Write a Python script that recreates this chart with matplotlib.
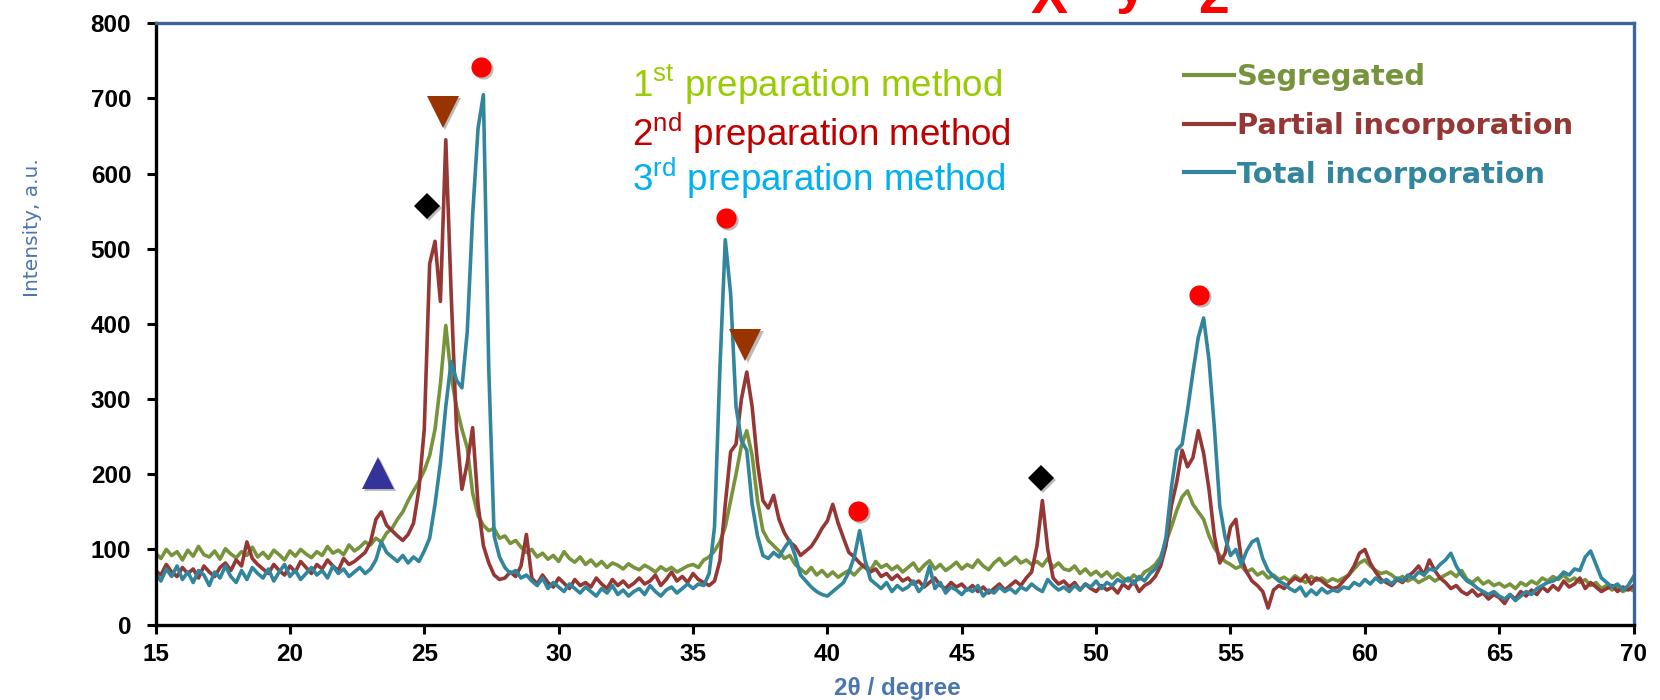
import numpy as np
import matplotlib
matplotlib.use('Agg')
import matplotlib.pyplot as plt
import matplotlib.transforms as mtransforms

plt.rcParams['mathtext.fontset'] = 'custom'
plt.rcParams['mathtext.rm'] = 'Liberation Sans'
plt.rcParams['mathtext.bf'] = 'Liberation Sans:bold'

# 2-theta scan, 0.2 degree step from 15 to 70
TWO_THETA = np.round(np.arange(15.0, 70.05, 0.2), 1)

SEGREGATED = [
    95, 88, 100, 92, 97, 86, 99, 91, 104, 93,
    90, 98, 87, 101, 94, 89, 97, 92, 103, 90,
    96, 88, 99, 93, 86, 98, 91, 100, 94, 89,
    97, 92, 104, 95, 99, 93, 106, 98, 103, 110,
    106, 115, 110, 122, 128, 140, 150, 165, 178, 190,
    205, 225, 260, 320, 398, 330, 290, 260, 235, 175,
    145, 132, 125, 128, 115, 118, 108, 112, 103, 96,
    100, 90, 95, 87, 92, 84, 97, 88, 83, 90,
    80, 86, 78, 84, 76, 82, 79, 74, 81, 76,
    73, 79, 75, 70, 77, 72, 76, 70, 74, 78,
    80, 76, 86, 90, 98, 110, 130, 165, 200, 238,
    258, 225, 165, 125, 112, 105, 98, 88, 92, 80,
    74, 68, 76, 66, 72, 64, 70, 63, 68, 72,
    66, 74, 80, 72, 84, 76, 80, 73, 78, 70,
    76, 82, 71, 79, 85, 74, 80, 72, 77, 83,
    74, 80, 76, 86, 78, 73, 82, 88, 79, 84,
    90, 82, 86, 80, 84, 78, 88, 76, 82, 74,
    72, 78, 68, 74, 66, 71, 64, 70, 62, 68,
    62, 58, 66, 60, 70, 74, 80, 90, 110, 130,
    152, 170, 178, 160, 150, 140, 118, 102, 92, 84,
    80, 75, 78, 70, 74, 66, 70, 62, 66, 60,
    63, 58, 65, 60, 56, 64, 59, 62, 57, 61,
    58, 62, 66, 74, 82, 86, 78, 72, 68, 70,
    66, 60, 64, 58, 62, 56, 60, 64, 58, 62,
    66, 70, 64, 72, 60, 56, 62, 54, 58, 52,
    55, 50, 54, 48, 56, 52, 58, 54, 62, 58,
    64, 60, 66, 58, 62, 56, 60, 52, 56, 48,
    52, 46, 50, 44, 48, 45,
]

PARTIAL = [
    72, 66, 80, 70, 64, 76, 68, 74, 62, 78,
    70, 64, 76, 82, 72, 86, 78, 110, 88, 80,
    74, 68, 80, 72, 66, 78, 70, 84, 76, 68,
    80, 74, 86, 78, 72, 88, 80, 84, 90, 96,
    110, 140, 150, 132, 125, 118, 112, 120, 135, 180,
    260, 480, 510, 430, 645, 440, 260, 180, 215, 262,
    160, 105, 82, 66, 60, 62, 70, 64, 78, 120,
    62, 54, 66, 56, 50, 62, 55, 48, 60, 52,
    56, 50, 62, 54, 48, 60, 52, 58, 50, 55,
    62, 54, 58, 66, 52, 60, 70, 58, 64, 56,
    68, 60, 56, 52, 58, 85, 160, 230, 240, 300,
    336, 290, 215, 165, 155, 172, 140, 122, 110, 104,
    92, 98, 104, 115, 128, 138, 160, 135, 115, 96,
    90, 82, 76, 70, 74, 64, 68, 60, 66, 58,
    62, 54, 58, 50, 56, 62, 52, 48, 56, 50,
    54, 46, 52, 44, 50, 42, 48, 54, 46, 52,
    58, 52, 62, 70, 105, 165, 100, 62, 54, 58,
    50, 56, 46, 54, 48, 44, 52, 46, 50, 42,
    54, 48, 58, 44, 52, 56, 64, 78, 105, 158,
    190, 232, 210, 222, 258, 228, 180, 118, 82, 95,
    130, 140, 88, 70, 58, 52, 44, 22, 46, 52,
    48, 56, 62, 58, 66, 54, 62, 58, 52, 48,
    50, 58, 66, 78, 95, 100, 82, 70, 60, 56,
    52, 60, 56, 64, 70, 78, 66, 86, 72, 62,
    56, 48, 52, 44, 40, 46, 38, 42, 34, 40,
    36, 28, 40, 34, 44, 38, 46, 40, 50, 44,
    52, 46, 58, 50, 54, 62, 48, 56, 50, 44,
    48, 52, 44, 50, 46, 52,
]

TOTAL = [
    68, 58, 74, 64, 78, 60, 70, 56, 72, 66,
    52, 70, 62, 78, 64, 56, 72, 60, 76, 68,
    62, 74, 58, 70, 80, 64, 72, 60, 68, 76,
    66, 72, 62, 78, 68, 74, 64, 70, 76, 68,
    74, 86, 110, 96, 90, 84, 92, 82, 90, 84,
    98, 115, 160, 215, 290, 350, 325, 315, 390, 545,
    660, 705, 340, 118, 90, 76, 68, 72, 62, 66,
    58, 52, 62, 48, 56, 50, 44, 54, 48, 42,
    50, 44, 38, 48, 42, 52, 40, 46, 38, 44,
    48, 40, 52, 44, 38, 46, 50, 42, 48, 54,
    48, 54, 52, 68, 130, 340, 512, 440, 290, 245,
    232, 160, 118, 92, 88, 96, 90, 102, 112, 92,
    66, 58, 50, 44, 40, 38, 44, 50, 56, 70,
    90, 125, 86, 60, 54, 48, 56, 44, 52, 46,
    50, 58, 44, 52, 78, 48, 56, 42, 50, 46,
    40, 48, 44, 52, 38, 46, 42, 50, 44, 48,
    42, 50, 46, 54, 48, 44, 60, 52, 46, 50,
    44, 52, 46, 54, 50, 58, 48, 56, 52, 60,
    56, 62, 54, 64, 58, 68, 74, 86, 116, 182,
    232, 240, 285, 335, 382, 408, 352, 262, 158, 116,
    92, 100, 80, 98, 110, 114, 88, 72, 64, 58,
    54, 48, 44, 50, 38, 46, 40, 48, 42, 46,
    44, 50, 48, 56, 52, 60, 54, 62, 56, 60,
    54, 62, 58, 66, 62, 70, 66, 74, 72, 80,
    86, 95, 78, 66, 58, 54, 48, 44, 40, 44,
    38, 34, 40, 32, 38, 44, 40, 48, 52, 56,
    58, 62, 70, 66, 74, 72, 90, 98, 80, 62,
    56, 50, 54, 46, 52, 64,
]

SERIES_NAMES = ['Segregated', 'Partial incorporation', 'Total incorporation']

# phase markers above the reflections (2theta, intensity)
CIRCLE_X = [27.1, 36.23, 41.14, 53.83]
CIRCLE_Y = [742, 541, 151, 438]
TRI_DOWN_X = [25.69, 36.95]
TRI_DOWN_Y = [682, 372]
DIAMOND_X = [25.1, 47.95]
DIAMOND_Y = [557, 195]
TRI_UP_X = [23.27]
TRI_UP_Y = [202]

METHOD_LABELS = [r'1$^{\mathrm{st}}$ preparation method',
                 r'2$^{\mathrm{nd}}$ preparation method',
                 r'3$^{\mathrm{rd}}$ preparation method']

assert len(SEGREGATED) == len(TWO_THETA) == len(PARTIAL) == len(TOTAL)

LINE_COLORS = ['#77933C', '#953735', '#31859C']
METHOD_COLORS = ['#99CC00', '#C00000', '#00B0F0']
FRAME_BLUE = '#3B659A'
LABEL_BLUE = '#4A76AD'

fig = plt.figure(figsize=(16.6, 7), dpi=100)
ax = fig.add_axes([0.0937, 0.1077, 0.8904, 0.859])

for ys, c, name in zip([SEGREGATED, PARTIAL, TOTAL], LINE_COLORS, SERIES_NAMES):
    ax.plot(TWO_THETA, ys, color=c, lw=2.6, label=name, solid_joinstyle='round', zorder=2)

# markers with a light drop shadow
shadow = mtransforms.offset_copy(ax.transData, fig=fig, x=1.5, y=-1.5, units='points')
marker_sets = [
    (CIRCLE_X, CIRCLE_Y, 'o', '#FF0000', 14.5),
    (TRI_DOWN_X, TRI_DOWN_Y, 'v', '#993300', 23),
    (DIAMOND_X, DIAMOND_Y, 'D', '#000000', 13.5),
    (TRI_UP_X, TRI_UP_Y, '^', '#333399', 23),
]
for xs, ys, m, c, ms in marker_sets:
    ax.plot(xs, ys, ls='none', marker=m, ms=ms, color='#BBBBBB', mew=0,
            transform=shadow, zorder=3)
    ax.plot(xs, ys, ls='none', marker=m, ms=ms, color=c, mew=0, zorder=4)

ax.set_xlim(15, 70)
ax.set_ylim(0, 800)
ax.set_xticks(np.arange(15, 71, 5))
ax.set_yticks(np.arange(0, 801, 100))

for side in ['left', 'bottom']:
    ax.spines[side].set_color('black')
    ax.spines[side].set_linewidth(2.4)
for side in ['top', 'right']:
    ax.spines[side].set_color(FRAME_BLUE)
    ax.spines[side].set_linewidth(2.4)

ax.tick_params(axis='both', direction='out', length=6.5, width=2.2, color='black')
ax.tick_params(axis='y', pad=11)
ax.tick_params(axis='x', pad=7)
for lab in ax.get_xticklabels() + ax.get_yticklabels():
    lab.set_fontfamily('Liberation Sans')
    lab.set_fontweight('bold')
    lab.set_fontsize(17.5)

fig.text(32 / 1660, 1 - 228 / 700, 'Intensity, a.u.', rotation=90, color=LABEL_BLUE,
         fontsize=14.5, family='DejaVu Sans', ha='center', va='center')
fig.text(897 / 1660, 1 - 688 / 700, '2\u03b8 / degree', color=LABEL_BLUE,
         fontsize=17.5, family='Liberation Sans', fontweight='bold', ha='center', va='center')

# preparation method notes
for i, (txt, c) in enumerate(zip(METHOD_LABELS, METHOD_COLORS)):
    base_px = [97, 146, 190.5][i]
    fig.text(632 / 1660, 1 - base_px / 700, txt, color=c, fontsize=26.5,
             family='Liberation Sans', ha='left', va='baseline')

# legend
leg = ax.legend(loc='upper left', bbox_to_anchor=(1184 / 1660, 1 - 63 / 700),
                bbox_transform=fig.transFigure, frameon=False, borderpad=0,
                borderaxespad=0, handlelength=1.72, handletextpad=0.1,
                labelspacing=0.72,
                prop={'family': 'DejaVu Sans', 'weight': 'bold', 'size': 20.8})
for t, c in zip(leg.get_texts(), LINE_COLORS):
    t.set_color(c)
for h in leg.get_lines():
    h.set_linewidth(3)

# red title, mostly cut off by the top of the figure
for ch, xc, base in [('X', 1049, 13), ('y', 1131, 2), ('2', 1214, 13)]:
    fig.text(xc / 1660, 1 - base / 700, ch, color='#FF0000', fontsize=40,
             family='Liberation Sans', fontweight='bold', ha='center', va='baseline')

fig.savefig('out.png', dpi=100)
